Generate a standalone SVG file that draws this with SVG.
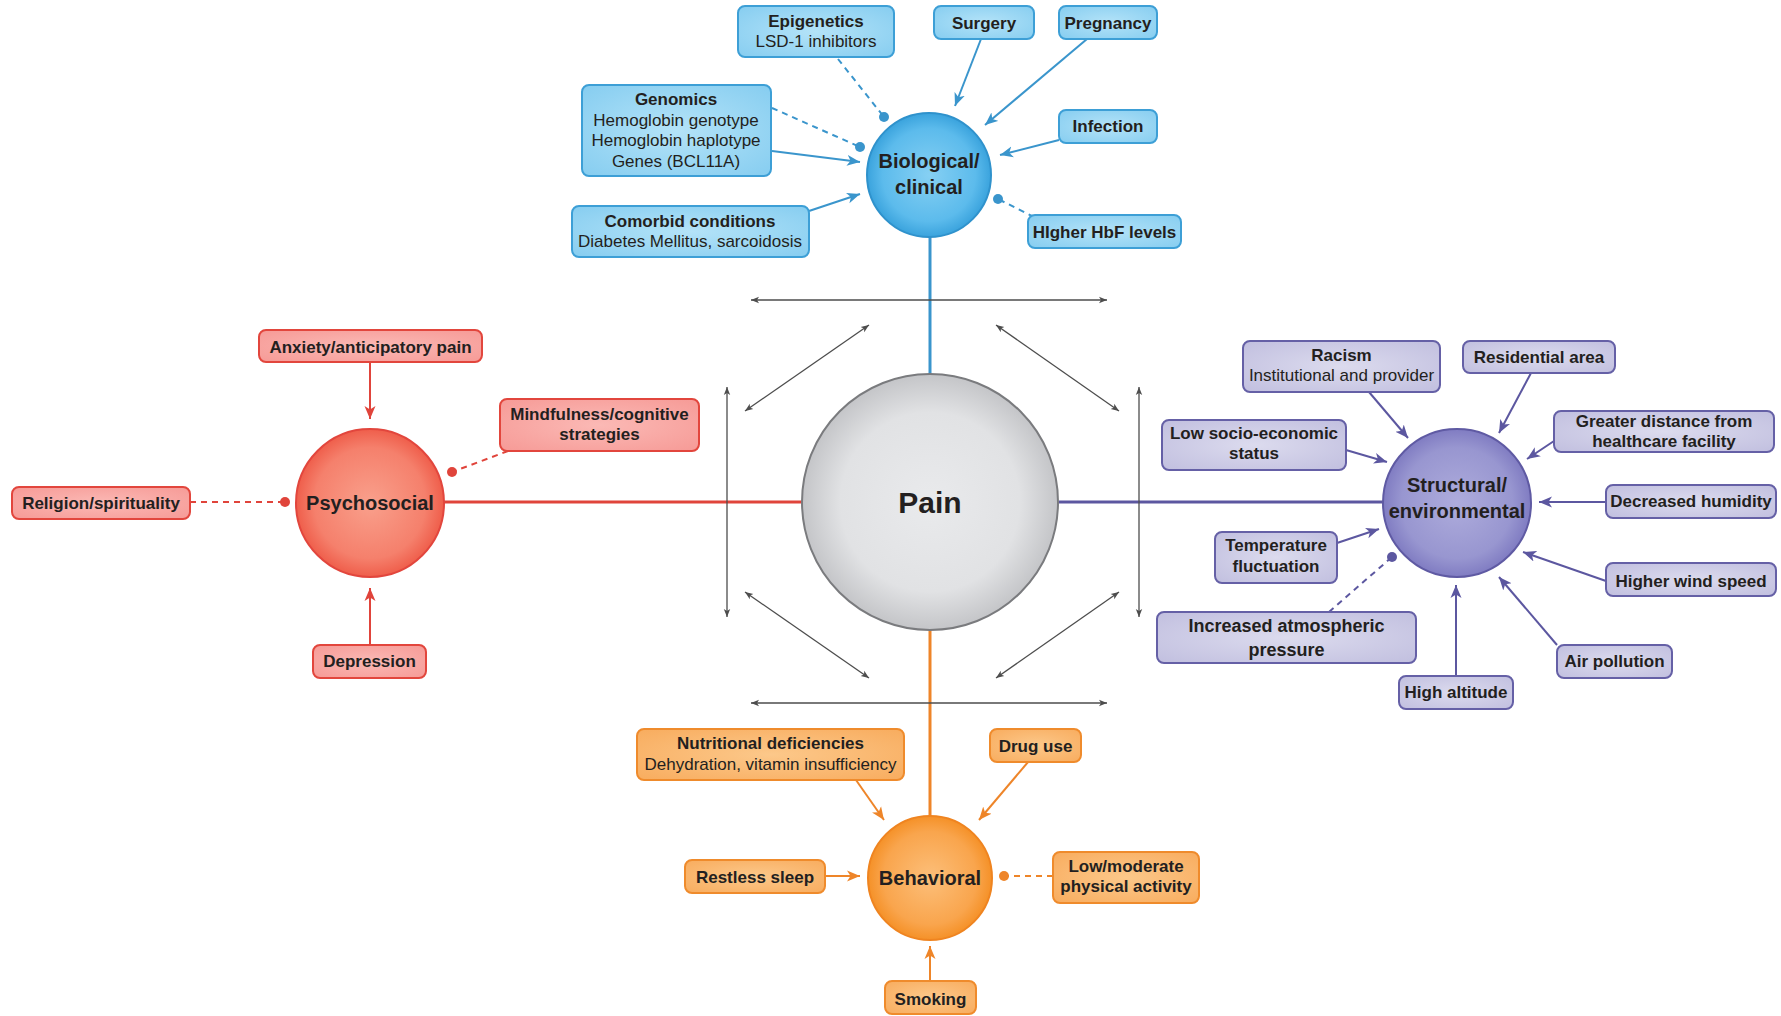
<svg xmlns="http://www.w3.org/2000/svg" width="1781" height="1016" viewBox="0 0 1781 1016">
  <defs>
    <style>
      text { font-family: "Liberation Sans", Arial, sans-serif; fill: #231f20; text-anchor: middle; }
      .b { font-size: 17px; font-weight: bold; }
      .r { font-size: 17px; }
      .big { font-size: 18px; font-weight: bold; }
      .lbl { font-size: 20px; font-weight: bold; }
      .pain { font-size: 30px; font-weight: bold; }
      .box { stroke-width: 2; }
      .blue .box { fill: url(#gBlueBox); stroke: #3d9fd6; }
      .red .box { fill: url(#gRedBox); stroke: #e2463d; }
      .purple .box { fill: url(#gPurBox); stroke: #6560a6; }
      .orange .box { fill: url(#gOrgBox); stroke: #ef8b2c; }
      .c { fill: none; stroke-width: 2; }
      .cb { stroke: #3a95cc; }
      .cr { stroke: #e0443b; }
      .cp { stroke: #5c57a0; }
      .co { stroke: #ee8529; }
      .dash { stroke-dasharray: 6 5; }
      .main { fill: none; stroke-width: 3; }
      .grey { fill: none; stroke: #4d4d4d; stroke-width: 1.3; marker-start: url(#aGrey); marker-end: url(#aGrey); }
    </style>
    <radialGradient id="gBlueBox" cx="0.5" cy="0.5" r="0.7">
      <stop offset="0" stop-color="#b4e3f8"/>
      <stop offset="1" stop-color="#86cdf0"/>
    </radialGradient>
    <radialGradient id="gRedBox" cx="0.5" cy="0.5" r="0.7">
      <stop offset="0" stop-color="#fbb9b5"/>
      <stop offset="1" stop-color="#f69a96"/>
    </radialGradient>
    <radialGradient id="gPurBox" cx="0.5" cy="0.5" r="0.7">
      <stop offset="0" stop-color="#dcdbee"/>
      <stop offset="1" stop-color="#c1bfdf"/>
    </radialGradient>
    <radialGradient id="gOrgBox" cx="0.5" cy="0.5" r="0.7">
      <stop offset="0" stop-color="#fcc88a"/>
      <stop offset="1" stop-color="#f8ac5e"/>
    </radialGradient>
    <radialGradient id="gBlue" cx="0.5" cy="0.5" r="0.5">
      <stop offset="0" stop-color="#86d0f3"/>
      <stop offset="0.75" stop-color="#5cbbec"/>
      <stop offset="1" stop-color="#3aa3dd"/>
    </radialGradient>
    <radialGradient id="gRed" cx="0.5" cy="0.5" r="0.5">
      <stop offset="0" stop-color="#f9a08c"/>
      <stop offset="0.75" stop-color="#f5806c"/>
      <stop offset="1" stop-color="#ef5e4b"/>
    </radialGradient>
    <radialGradient id="gPur" cx="0.5" cy="0.5" r="0.5">
      <stop offset="0" stop-color="#aeacdc"/>
      <stop offset="0.75" stop-color="#9896d0"/>
      <stop offset="1" stop-color="#807cc2"/>
    </radialGradient>
    <radialGradient id="gOrg" cx="0.5" cy="0.5" r="0.5">
      <stop offset="0" stop-color="#fcbf7a"/>
      <stop offset="0.75" stop-color="#f9a54d"/>
      <stop offset="1" stop-color="#f59128"/>
    </radialGradient>
    <radialGradient id="gPain" cx="0.5" cy="0.5" r="0.5">
      <stop offset="0" stop-color="#e9eaec"/>
      <stop offset="0.7" stop-color="#e1e2e4"/>
      <stop offset="1" stop-color="#c4c5c8"/>
    </radialGradient>
    <marker id="aBlue" markerUnits="userSpaceOnUse" markerWidth="14" markerHeight="12" refX="13" refY="6" orient="auto">
      <path d="M0,0.5 L13,6 L0,11.5 L3.5,6 z" fill="#3a95cc"/>
    </marker>
    <marker id="aRed" markerUnits="userSpaceOnUse" markerWidth="14" markerHeight="12" refX="13" refY="6" orient="auto">
      <path d="M0,0.5 L13,6 L0,11.5 L3.5,6 z" fill="#e0443b"/>
    </marker>
    <marker id="aPur" markerUnits="userSpaceOnUse" markerWidth="14" markerHeight="12" refX="13" refY="6" orient="auto">
      <path d="M0,0.5 L13,6 L0,11.5 L3.5,6 z" fill="#5c57a0"/>
    </marker>
    <marker id="aOrg" markerUnits="userSpaceOnUse" markerWidth="14" markerHeight="12" refX="13" refY="6" orient="auto">
      <path d="M0,0.5 L13,6 L0,11.5 L3.5,6 z" fill="#ee8529"/>
    </marker>
    <marker id="aGrey" markerUnits="userSpaceOnUse" markerWidth="9" markerHeight="8" refX="8" refY="4" orient="auto-start-reverse">
      <path d="M0,0.8 L8,4 L0,7.2 L2,4 z" fill="#4d4d4d"/>
    </marker>
    <marker id="dBlue" markerUnits="userSpaceOnUse" markerWidth="12" markerHeight="12" refX="6" refY="6">
      <circle cx="6" cy="6" r="5" fill="#3a95cc"/>
    </marker>
    <marker id="dRed" markerUnits="userSpaceOnUse" markerWidth="12" markerHeight="12" refX="6" refY="6">
      <circle cx="6" cy="6" r="5" fill="#e0443b"/>
    </marker>
    <marker id="dPur" markerUnits="userSpaceOnUse" markerWidth="12" markerHeight="12" refX="6" refY="6">
      <circle cx="6" cy="6" r="5" fill="#5c57a0"/>
    </marker>
    <marker id="dOrg" markerUnits="userSpaceOnUse" markerWidth="12" markerHeight="12" refX="6" refY="6">
      <circle cx="6" cy="6" r="5" fill="#ee8529"/>
    </marker>
  </defs>

  <rect width="1781" height="1016" fill="#ffffff"/>

  <!-- connectors -->
  <g id="connectors">
    <!-- spokes from Pain to the four domains -->
    <line class="main" stroke="#3a95cc" x1="930" y1="237" x2="930" y2="375"/>
    <line class="main" stroke="#e0443b" x1="444" y1="502" x2="802" y2="502"/>
    <line class="main" stroke="#5c57a0" x1="1059" y1="502" x2="1383" y2="502"/>
    <line class="main" stroke="#ee8529" x1="930" y1="630" x2="930" y2="816"/>

    <!-- interaction arrows around Pain -->
    <line class="grey" x1="751" y1="300" x2="1107" y2="300"/>
    <line class="grey" x1="751" y1="703" x2="1107" y2="703"/>
    <line class="grey" x1="727" y1="387" x2="727" y2="617"/>
    <line class="grey" x1="1139" y1="387" x2="1139" y2="617"/>
    <line class="grey" x1="869" y1="325" x2="745" y2="411"/>
    <line class="grey" x1="996" y1="325" x2="1119" y2="411"/>
    <line class="grey" x1="745" y1="592" x2="869" y2="678"/>
    <line class="grey" x1="1119" y1="592" x2="996" y2="678"/>

    <!-- biological/clinical -->
    <line class="c cb" x1="981" y1="39" x2="955" y2="106" marker-end="url(#aBlue)"/>
    <line class="c cb" x1="1087" y1="39" x2="985" y2="125" marker-end="url(#aBlue)"/>
    <line class="c cb" x1="1059" y1="140" x2="1000" y2="155" marker-end="url(#aBlue)"/>
    <line class="c cb" x1="772" y1="151" x2="860" y2="162" marker-end="url(#aBlue)"/>
    <line class="c cb" x1="809" y1="211" x2="860" y2="194" marker-end="url(#aBlue)"/>
    <line class="c cb dash" x1="838" y1="59" x2="884" y2="117" marker-end="url(#dBlue)"/>
    <line class="c cb dash" x1="772" y1="108" x2="860" y2="147" marker-end="url(#dBlue)"/>
    <line class="c cb dash" x1="1034" y1="217" x2="998" y2="199" marker-end="url(#dBlue)"/>

    <!-- psychosocial -->
    <line class="c cr" x1="370" y1="362" x2="370" y2="419" marker-end="url(#aRed)"/>
    <line class="c cr" x1="370" y1="645" x2="370" y2="588" marker-end="url(#aRed)"/>
    <line class="c cr dash" x1="190" y1="502" x2="285" y2="502" marker-end="url(#dRed)"/>
    <line class="c cr dash" x1="508" y1="451" x2="452" y2="472" marker-end="url(#dRed)"/>

    <!-- structural/environmental -->
    <line class="c cp" x1="1369" y1="392" x2="1408" y2="438" marker-end="url(#aPur)"/>
    <line class="c cp" x1="1531" y1="373" x2="1499" y2="433" marker-end="url(#aPur)"/>
    <line class="c cp" x1="1346" y1="450" x2="1387" y2="462" marker-end="url(#aPur)"/>
    <line class="c cp" x1="1554" y1="441" x2="1527" y2="459" marker-end="url(#aPur)"/>
    <line class="c cp" x1="1606" y1="502" x2="1539" y2="502" marker-end="url(#aPur)"/>
    <line class="c cp" x1="1337" y1="543" x2="1379" y2="529" marker-end="url(#aPur)"/>
    <line class="c cp" x1="1456" y1="676" x2="1456" y2="585" marker-end="url(#aPur)"/>
    <line class="c cp" x1="1557" y1="645" x2="1499" y2="577" marker-end="url(#aPur)"/>
    <line class="c cp" x1="1606" y1="581" x2="1523" y2="552" marker-end="url(#aPur)"/>
    <line class="c cp dash" x1="1329" y1="612" x2="1392" y2="557" marker-end="url(#dPur)"/>

    <!-- behavioral -->
    <line class="c co" x1="856" y1="780" x2="884" y2="820" marker-end="url(#aOrg)"/>
    <line class="c co" x1="1028" y1="762" x2="979" y2="820" marker-end="url(#aOrg)"/>
    <line class="c co" x1="825" y1="876" x2="860" y2="876" marker-end="url(#aOrg)"/>
    <line class="c co" x1="930" y1="981" x2="930" y2="946" marker-end="url(#aOrg)"/>
    <line class="c co dash" x1="1053" y1="876" x2="1004" y2="876" marker-end="url(#dOrg)"/>
  </g>

  <!-- central node -->
  <g id="pain">
    <circle cx="930" cy="502" r="128" fill="url(#gPain)" stroke="#7a7b7e" stroke-width="2"/>
    <text class="pain" x="930" y="513">Pain</text>
  </g>

  <!-- domain nodes -->
  <g id="biological">
    <circle cx="929" cy="175" r="62" fill="url(#gBlue)" stroke="#2f92cc" stroke-width="2"/>
    <text class="lbl" x="929" y="168">Biological/</text>
    <text class="lbl" x="929" y="194">clinical</text>
  </g>
  <g id="psychosocial">
    <circle cx="370" cy="503" r="74" fill="url(#gRed)" stroke="#e2463d" stroke-width="2"/>
    <text class="lbl" x="370" y="510">Psychosocial</text>
  </g>
  <g id="structural">
    <circle cx="1457" cy="503" r="74" fill="url(#gPur)" stroke="#5f5aa3" stroke-width="2"/>
    <text class="lbl" x="1457" y="492">Structural/</text>
    <text class="lbl" x="1457" y="518">environmental</text>
  </g>
  <g id="behavioral">
    <circle cx="930" cy="878" r="62" fill="url(#gOrg)" stroke="#ef8420" stroke-width="2"/>
    <text class="lbl" x="930" y="885">Behavioral</text>
  </g>

  <!-- biological/clinical factors -->
  <g class="blue">
    <g id="epigenetics">
      <rect class="box" x="738" y="6" width="156" height="51" rx="7"/>
      <text class="b" x="816" y="26.5">Epigenetics</text>
      <text class="r" x="816" y="47">LSD-1 inhibitors</text>
    </g>
    <g id="surgery">
      <rect class="box" x="934" y="6" width="100" height="33" rx="7"/>
      <text class="b" x="984" y="29">Surgery</text>
    </g>
    <g id="pregnancy">
      <rect class="box" x="1059" y="6" width="98" height="33" rx="7"/>
      <text class="b" x="1108" y="29">Pregnancy</text>
    </g>
    <g id="genomics">
      <rect class="box" x="582" y="85" width="189" height="91" rx="7"/>
      <text class="b" x="676" y="105">Genomics</text>
      <text class="r" x="676" y="125.5">Hemoglobin genotype</text>
      <text class="r" x="676" y="146">Hemoglobin haplotype</text>
      <text class="r" x="676" y="166.5">Genes (BCL11A)</text>
    </g>
    <g id="infection">
      <rect class="box" x="1059" y="110" width="98" height="33" rx="7"/>
      <text class="b" x="1108" y="132">Infection</text>
    </g>
    <g id="comorbid">
      <rect class="box" x="572" y="206" width="237" height="51" rx="7"/>
      <text class="b" x="690" y="226.5">Comorbid conditions</text>
      <text class="r" x="690" y="247">Diabetes Mellitus, sarcoidosis</text>
    </g>
    <g id="hbf">
      <rect class="box" x="1028" y="215" width="153" height="33" rx="7"/>
      <text class="b" x="1104.5" y="238">HIgher HbF levels</text>
    </g>
  </g>

  <!-- psychosocial factors -->
  <g class="red">
    <g id="anxiety">
      <rect class="box" x="259" y="330" width="223" height="32" rx="7"/>
      <text class="b" x="370.5" y="352.5">Anxiety/anticipatory pain</text>
    </g>
    <g id="mindfulness">
      <rect class="box" x="500" y="399" width="199" height="52" rx="7"/>
      <text class="b" x="599.5" y="419.5">Mindfulness/cognitive</text>
      <text class="b" x="599.5" y="440">strategies</text>
    </g>
    <g id="religion">
      <rect class="box" x="12" y="487" width="178" height="32" rx="7"/>
      <text class="b" x="101" y="509">Religion/spirituality</text>
    </g>
    <g id="depression">
      <rect class="box" x="313" y="645" width="113" height="33" rx="7"/>
      <text class="b" x="369.5" y="667">Depression</text>
    </g>
  </g>

  <!-- structural/environmental factors -->
  <g class="purple">
    <g id="racism">
      <rect class="box" x="1243" y="341" width="197" height="51" rx="7"/>
      <text class="b" x="1341.5" y="360.5">Racism</text>
      <text class="r" x="1341.5" y="381">Institutional and provider</text>
    </g>
    <g id="residential">
      <rect class="box" x="1463" y="341" width="152" height="32" rx="7"/>
      <text class="b" x="1539" y="362.5">Residential area</text>
    </g>
    <g id="ses">
      <rect class="box" x="1162" y="420" width="184" height="50" rx="7"/>
      <text class="b" x="1254" y="439">Low socio-economic</text>
      <text class="b" x="1254" y="459">status</text>
    </g>
    <g id="distance">
      <rect class="box" x="1554" y="411" width="220" height="41" rx="7"/>
      <text class="b" x="1664" y="426.5">Greater distance from</text>
      <text class="b" x="1664" y="447">healthcare facility</text>
    </g>
    <g id="humidity">
      <rect class="box" x="1606" y="485" width="170" height="33" rx="7"/>
      <text class="b" x="1691" y="507">Decreased humidity</text>
    </g>
    <g id="temperature">
      <rect class="box" x="1215" y="532" width="122" height="51" rx="7"/>
      <text class="b" x="1276" y="551">Temperature</text>
      <text class="b" x="1276" y="572">fluctuation</text>
    </g>
    <g id="wind">
      <rect class="box" x="1606" y="563" width="170" height="33" rx="7"/>
      <text class="b" x="1691" y="586.5">Higher wind speed</text>
    </g>
    <g id="pressure">
      <rect class="box" x="1157" y="612" width="259" height="51" rx="7"/>
      <text class="big" x="1286.5" y="632">Increased atmospheric</text>
      <text class="big" x="1286.5" y="656">pressure</text>
    </g>
    <g id="pollution">
      <rect class="box" x="1557" y="645" width="115" height="33" rx="7"/>
      <text class="b" x="1614.5" y="667">Air pollution</text>
    </g>
    <g id="altitude">
      <rect class="box" x="1399" y="676" width="114" height="33" rx="7"/>
      <text class="b" x="1456" y="698">High altitude</text>
    </g>
  </g>

  <!-- behavioral factors -->
  <g class="orange">
    <g id="nutrition">
      <rect class="box" x="637" y="729" width="267" height="51" rx="7"/>
      <text class="b" x="770.5" y="749">Nutritional deficiencies</text>
      <text class="r" x="770.5" y="769.5">Dehydration, vitamin insufficiency</text>
    </g>
    <g id="drug">
      <rect class="box" x="990" y="729" width="91" height="33" rx="7"/>
      <text class="b" x="1035.5" y="752">Drug use</text>
    </g>
    <g id="sleep">
      <rect class="box" x="685" y="860" width="140" height="33" rx="7"/>
      <text class="b" x="755" y="883">Restless sleep</text>
    </g>
    <g id="activity">
      <rect class="box" x="1053" y="852" width="146" height="51" rx="7"/>
      <text class="b" x="1126" y="871.5">Low/moderate</text>
      <text class="b" x="1126" y="892">physical activity</text>
    </g>
    <g id="smoking">
      <rect class="box" x="885" y="981" width="91" height="33" rx="7"/>
      <text class="b" x="930.5" y="1004.5">Smoking</text>
    </g>
  </g>
</svg>
